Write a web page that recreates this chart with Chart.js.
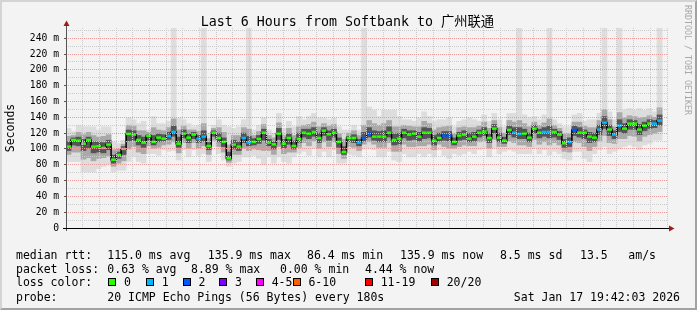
<!DOCTYPE html>
<html>
<head>
<meta charset="utf-8">
<script src="https://cdn.jsdelivr.net/npm/chart.js@4.4.1/dist/chart.umd.min.js"></script>
<style>
  body { margin: 0; background: #f3f3f3; }
  #wrap { position: relative; width: 697px; height: 310px; background: #f3f3f3; overflow: hidden;
          font-family: 'DejaVu Sans Mono', monospace; color: #000; }
  #wrap canvas { position: absolute; left: 0; top: 0; }
  .frame { position: absolute; left: 0; top: 0; width: 697px; height: 310px; box-sizing: border-box;
           border-top: 2px solid #d4d4d4; border-left: 2px solid #d4d4d4;
           border-right: 2px solid #a2a2a2; border-bottom: 2px solid #a2a2a2; pointer-events: none; }
  .t { position: absolute; white-space: pre; font-size: 11.5px; line-height: 14px; }
  .box { position: absolute; width: 6px; height: 6px; border: 1px solid #000; top: 277.5px; }
  #title { position: absolute; top: 14px; left: 0; width: 695px; text-align: center; font-size: 13.3px;
           line-height: 16px; font-family: 'DejaVu Sans Mono', 'Noto Sans CJK SC', monospace; }
  #rrd { position: absolute; left: 683px; top: 5px; writing-mode: vertical-rl; font-size: 8.3px;
         line-height: 10px; color: #a8a8a8; }
</style>
</head>
<body>
<div id="wrap">
  <canvas id="grafico" width="697" height="310"></canvas>
  <div id="title">Last 6 Hours from Softbank to 广州联通</div>
  <div id="rrd">RRDTOOL / TOBI OETIKER</div>

  <span class="t" style="left:16px;top:247.7px">median rtt:</span>
  <span class="t" style="left:107.3px;top:247.7px">115.0 ms avg</span>
  <span class="t" style="left:207.8px;top:247.7px">135.9 ms max</span>
  <span class="t" style="left:307px;top:247.7px">86.4 ms min</span>
  <span class="t" style="left:400px;top:247.7px">135.9 ms now</span>
  <span class="t" style="left:500px;top:247.7px">8.5 ms sd</span>
  <span class="t" style="left:580px;top:247.7px">13.5</span>
  <span class="t" style="left:628.3px;top:247.7px">am/s</span>

  <span class="t" style="left:16px;top:261.9px">packet loss:</span>
  <span class="t" style="left:107.3px;top:261.9px">0.63 % avg</span>
  <span class="t" style="left:191px;top:261.9px">8.89 % max</span>
  <span class="t" style="left:280px;top:261.9px">0.00 % min</span>
  <span class="t" style="left:365px;top:261.9px">4.44 % now</span>

  <span class="t" style="left:16px;top:275.4px">loss color:</span>
  <div id="lossLegend"></div>

  <span class="t" style="left:16px;top:289.5px">probe:</span>
  <span class="t" style="left:107.3px;top:289.5px">20 ICMP Echo Pings (56 Bytes) every 180s</span>
  <span class="t" style="right:17px;top:289.5px">Sat Jan 17 19:42:03 2026</span>

  <div class="frame"></div>
</div>

<script>
// loss classes
const lossLabels = ['0', '1', '2', '3', '4-5', '6-10', '11-19', '20/20']
const lossColors = ['#26ff00', '#00b8ff', '#0059ff', '#7e00ff', '#ff00ff', '#ff5e00', '#ff0000', '#a10000']

// one value per 3 minute step, starting 13:42:03 (ms)
const median = [
  103, 111.4, 110.5, 106.7, 111.4, 103, 103.4, 101.3, 105.5, 86.4,
  92.4, 100, 119, 118.1, 111.4, 108, 116.5, 108.9, 114.3, 113,
  116.5, 121.5, 106.7, 119.4, 114.3, 118.1, 113, 115.6, 103.8, 120.7,
  113.9, 108.9, 88.2, 105.5, 103, 113.9, 108, 108.9, 112.7, 120.7,
  108, 105.9, 119.4, 106.7, 113.9, 103.8, 112.7, 120.7, 119.4, 121.5,
  113.9, 123.2, 118.6, 120.7, 108.9, 96.2, 113.9, 113.9, 108, 113.9,
  119.4, 115.6, 115.6, 115.6, 120.7, 111.4, 113, 120.7, 118.1, 119.4,
  115.6, 120.7, 120.7, 110.5, 113.9, 116.9, 116.9, 108.9, 116.9, 118.1,
  113, 115.6, 120.7, 121.9, 113.9, 125.7, 114.3, 110.5, 124, 120.7,
  119, 119.4, 114.3, 125.7, 120.7, 121.5, 121.5, 121.5, 118.1, 107.2,
  108.9, 124, 120.7, 120.7, 115.6, 114.3, 124.5, 133.3, 124.5, 118.1,
  129.5, 125.7, 132, 132, 124.5, 129.5, 132, 132, 135.9
]
const lossClass = [
  0, 0, 0, 0, 0, 0, 0, 0, 0, 0,
  0, 0, 0, 0, 0, 0, 0, 0, 0, 0,
  1, 1, 0, 0, 0, 0, 1, 1, 0, 0,
  0, 0, 0, 0, 0, 1, 1, 0, 0, 0,
  0, 0, 0, 0, 0, 0, 0, 0, 0, 0,
  0, 0, 0, 0, 0, 0, 0, 0, 1, 2,
  2, 0, 0, 0, 0, 0, 0, 0, 0, 0,
  0, 0, 0, 0, 0, 2, 2, 0, 0, 0,
  0, 0, 0, 0, 0, 0, 0, 0, 0, 1,
  1, 0, 0, 0, 0, 1, 1, 0, 0, 0,
  1, 2, 0, 0, 0, 0, 1, 1, 0, 1,
  1, 0, 0, 0, 0, 0, 0, 1, 1
]
// smoke: lowest and highest ping of each step
const smokeMin = [
  84, 84, 84, 71, 71, 71, 75, 78, 80, 71,
  73, 73, 84, 90, 84, 82, 94, 94, 92, 99,
  97, 98, 86, 99, 90, 99, 92, 94, 84, 103,
  94, 86, 78, 82, 84, 90, 90, 92, 88, 80,
  90, 82, 90, 84, 82, 90, 94, 97, 92, 101,
  90, 97, 90, 99, 82, 82, 94, 92, 90, 100,
  101, 99, 90, 90, 97, 86, 84, 94, 90, 90,
  94, 90, 94, 90, 99, 92, 88, 94, 92, 94,
  97, 94, 99, 101, 90, 101, 94, 97, 99, 97,
  94, 94, 94, 101, 94, 99, 92, 97, 94, 88,
  86, 97, 97, 88, 84, 94, 99, 103, 94, 97,
  100, 103, 105, 103, 99, 105, 107, 111, 111
]
const smokeMax = [
  126, 122, 130, 128, 128, 128, 124, 128, 128, 109,
  107, 111, 139, 137, 132, 135, 124, 141, 132, 132,
  135, 253, 139, 137, 132, 128, 130, 253, 120, 130,
  137, 130, 128, 126, 128, 137, 253, 124, 130, 139,
  124, 120, 145, 126, 135, 128, 141, 137, 141, 145,
  139, 139, 137, 139, 128, 124, 124, 130, 124, 253,
  153, 149, 141, 149, 149, 149, 141, 137, 137, 135,
  139, 147, 141, 135, 137, 137, 139, 128, 135, 137,
  139, 137, 135, 143, 135, 145, 137, 128, 145, 145,
  253, 143, 139, 141, 137, 143, 253, 137, 132, 128,
  128, 143, 145, 135, 137, 137, 145, 253, 147, 137,
  253, 149, 151, 149, 151, 149, 151, 147, 253
]
// middle part of the smoke
const midLo = [
  93, 96, 96, 87, 89, 85, 88, 89, 91, 78,
  82, 85, 100, 103, 96, 94, 104, 101, 102, 105,
  106, 109, 95, 108, 101, 108, 101, 104, 93, 111,
  103, 96, 83, 93, 93, 101, 98, 100, 99, 98,
  98, 93, 103, 94, 96, 96, 102, 108, 104, 110,
  101, 109, 103, 109, 94, 88, 103, 102, 98, 106,
  109, 106, 102, 102, 108, 97, 97, 106, 103, 103,
  104, 104, 106, 99, 106, 103, 101, 101, 103, 105,
  104, 104, 109, 110, 101, 112, 103, 103, 110, 108,
  105, 105, 103, 112, 106, 109, 105, 108, 105, 97,
  96, 109, 108, 103, 98, 103, 110, 117, 108, 107,
  113, 113, 117, 116, 110, 116, 118, 120, 122
]
const midHi = [
  116, 117, 121, 118, 121, 117, 115, 116, 118, 99,
  100, 106, 130, 129, 123, 123, 121, 127, 124, 123,
  127, 138, 124, 129, 124, 124, 122, 132, 113, 126,
  127, 121, 105, 117, 117, 127, 125, 117, 122, 131,
  117, 114, 133, 117, 126, 117, 128, 130, 131, 134,
  128, 132, 129, 131, 119, 112, 120, 123, 117, 130,
  136, 132, 130, 132, 136, 128, 128, 130, 129, 128,
  128, 135, 132, 124, 127, 128, 129, 119, 127, 128,
  127, 127, 129, 134, 126, 136, 127, 120, 136, 134,
  136, 132, 128, 134, 130, 133, 138, 130, 126, 119,
  119, 134, 134, 129, 127, 127, 136, 150, 137, 128,
  146, 139, 142, 141, 139, 140, 142, 140, 152
]
// dense core round the median
const coreLo = [
  98, 105, 104, 98, 101, 95, 96, 95, 99, 82,
  88, 93, 110, 111, 105, 102, 111, 105, 109, 110,
  112, 116, 102, 114, 108, 113, 108, 110, 99, 116,
  109, 103, 86, 100, 98, 108, 104, 105, 107, 111,
  104, 100, 112, 101, 106, 100, 108, 115, 113, 116,
  108, 117, 111, 115, 102, 93, 109, 108, 104, 110,
  115, 111, 109, 109, 115, 105, 106, 114, 111, 112,
  110, 113, 114, 105, 110, 111, 110, 105, 111, 112,
  109, 110, 115, 117, 108, 120, 109, 107, 118, 115,
  113, 113, 109, 120, 114, 116, 114, 115, 112, 102,
  103, 117, 115, 113, 108, 109, 118, 126, 117, 113,
  122, 120, 125, 125, 118, 123, 126, 127, 130
]
const coreHi = [
  109, 114, 115, 112, 115, 109, 109, 108, 111, 92,
  96, 103, 124, 123, 117, 115, 118, 117, 119, 118,
  121, 129, 115, 124, 119, 121, 117, 123, 108, 123,
  120, 114, 96, 111, 109, 120, 116, 113, 117, 125,
  112, 109, 126, 112, 119, 110, 120, 125, 125, 127,
  120, 127, 123, 125, 114, 103, 116, 118, 112, 121,
  127, 123, 122, 123, 128, 119, 120, 125, 123, 123,
  121, 127, 126, 117, 120, 122, 122, 114, 121, 123,
  120, 121, 124, 127, 119, 131, 120, 115, 129, 127,
  127, 125, 120, 130, 125, 127, 129, 125, 122, 112,
  114, 129, 127, 124, 121, 120, 130, 141, 130, 123,
  137, 132, 137, 136, 131, 134, 137, 136, 143
]

const inicio = 13 * 60 + 42 + 3 / 60   // 13:42:03, minutes of the day
const fim = 19 * 60 + 42
const passo = 3
const yMax = 253

const gradeForte = '#e99a9a'
const gradeFraca = '#cbcbcb'
const fonte = "'DejaVu Sans Mono', monospace"

// legend boxes (layout only)
const lossLegendX = [108.3, 146, 182.7, 219.3, 256, 292.7, 365, 431]
const legenda = document.getElementById('lossLegend')
lossLabels.forEach((txt, i) => {
    let caixa = document.createElement('div')
    caixa.className = 'box'
    caixa.style.left = lossLegendX[i] + 'px'
    caixa.style.background = lossColors[i]
    legenda.appendChild(caixa)
    let rotulo = document.createElement('span')
    rotulo.className = 't'
    rotulo.style.left = (lossLegendX[i] + 15.7) + 'px'
    rotulo.style.top = '275.4px'
    rotulo.textContent = txt
    legenda.appendChild(rotulo)
})

function horaMinuto(m) {
    return String(Math.floor(m / 60)).padStart(2, '0') + ':' + String(m % 60).padStart(2, '0')
}

function faixa(lo, hi) {
    return lo.map((v, i) => ({ x: inicio + passo * i + passo / 2, y: [v, hi[i]] }))
}

const setas = {
    id: 'setas',
    afterDraw(chart) {
        const { ctx, chartArea: a } = chart
        ctx.save()
        ctx.lineWidth = 1
        ctx.strokeStyle = '#555'
        ctx.beginPath()
        ctx.moveTo(a.left + 0.5, a.bottom + 3)
        ctx.lineTo(a.left + 0.5, a.top - 3)
        ctx.stroke()
        ctx.strokeStyle = '#000'
        ctx.beginPath()
        ctx.moveTo(a.left - 3, a.bottom + 0.5)
        ctx.lineTo(a.right + 2, a.bottom + 0.5)
        ctx.stroke()
        ctx.fillStyle = '#a31818'
        ctx.beginPath()
        ctx.moveTo(a.left + 0.5, a.top - 7.5)
        ctx.lineTo(a.left - 2.5, a.top - 2)
        ctx.lineTo(a.left + 3.5, a.top - 2)
        ctx.fill()
        ctx.beginPath()
        ctx.moveTo(a.right + 7.5, a.bottom + 0.5)
        ctx.lineTo(a.right + 2, a.bottom - 2.5)
        ctx.lineTo(a.right + 2, a.bottom + 3.5)
        ctx.fill()
        ctx.restore()
    }
}

const barra = { type: 'bar', borderWidth: 0, barPercentage: 1, categoryPercentage: 1, grouped: false }

const grafico = new Chart(document.getElementById('grafico'), {
    type: 'bar',
    data: {
        datasets: [
            {
                type: 'line',
                label: 'median',
                data: median.map((v, i) => ({ x: inicio + passo * i + passo / 2, y: v })),
                stepped: 'middle',
                borderColor: '#000',
                borderWidth: 1.5,
                pointStyle: 'line',
                pointRadius: 2.5,
                pointBorderWidth: 2.5,
                pointBorderColor: lossClass.map(c => lossColors[c]),
                pointBackgroundColor: lossClass.map(c => lossColors[c]),
                fill: false,
                order: 0
            },
            { ...barra, label: 'core', data: faixa(coreLo, coreHi), backgroundColor: '#555555', order: 1 },
            { ...barra, label: 'mid', data: faixa(midLo, midHi), backgroundColor: '#a9a9a9', order: 2 },
            { ...barra, label: 'smoke', data: faixa(smokeMin, smokeMax), backgroundColor: '#dddddd', order: 3 }
        ]
    },
    options: {
        responsive: false,
        animation: false,
        devicePixelRatio: 1,
        events: [],
        layout: { padding: { top: 28, right: 30, bottom: 0, left: 0 } },
        plugins: { legend: { display: false }, tooltip: { enabled: false } },
        scales: {
            x: {
                type: 'linear',
                min: inicio,
                max: fim,
                offset: false,
                grid: {
                    offset: false,
                    z: 1,
                    color: c => c.tick && c.tick.value % 30 === 0 ? gradeForte : gradeFraca,
                    tickLength: 3,
                    tickColor: c => c.tick && c.tick.value % 30 === 0 ? '#000' : 'rgba(0,0,0,0)',
                    tickBorderDash: []
                },
                border: { display: false, dash: [1, 1] },
                ticks: {
                    stepSize: 10,
                    includeBounds: false,
                    autoSkip: false,
                    maxRotation: 0,
                    minRotation: 0,
                    padding: 0,
                    color: '#000',
                    font: { family: fonte, size: 9.7 },
                    callback: v => v % 60 === 0 ? horaMinuto(v) : ''
                },
                afterFit: s => { s.height = 82 }
            },
            y: {
                min: 0,
                max: yMax,
                grid: {
                    z: 1,
                    color: c => c.tick && c.tick.value % 20 === 0 ? gradeForte : gradeFraca,
                    tickLength: 2,
                    tickColor: c => c.tick && c.tick.value % 20 === 0 ? '#555' : 'rgba(0,0,0,0)',
                    tickBorderDash: []
                },
                border: { display: false, dash: [1, 1] },
                ticks: {
                    stepSize: 10,
                    includeBounds: false,
                    autoSkip: false,
                    padding: 5,
                    color: '#000',
                    font: { family: fonte, size: 9.7 },
                    callback: v => v % 20 !== 0 ? '' : (v === 0 ? '0' : v + ' m')
                },
                title: {
                    display: true,
                    text: 'Seconds',
                    color: '#000',
                    font: { family: fonte, size: 11.5 },
                    padding: { top: 4, bottom: 4 }
                },
                afterFit: s => { s.width = 66 }
            }
        }
    },
    plugins: [setas]
})
</script>
</body>
</html>
